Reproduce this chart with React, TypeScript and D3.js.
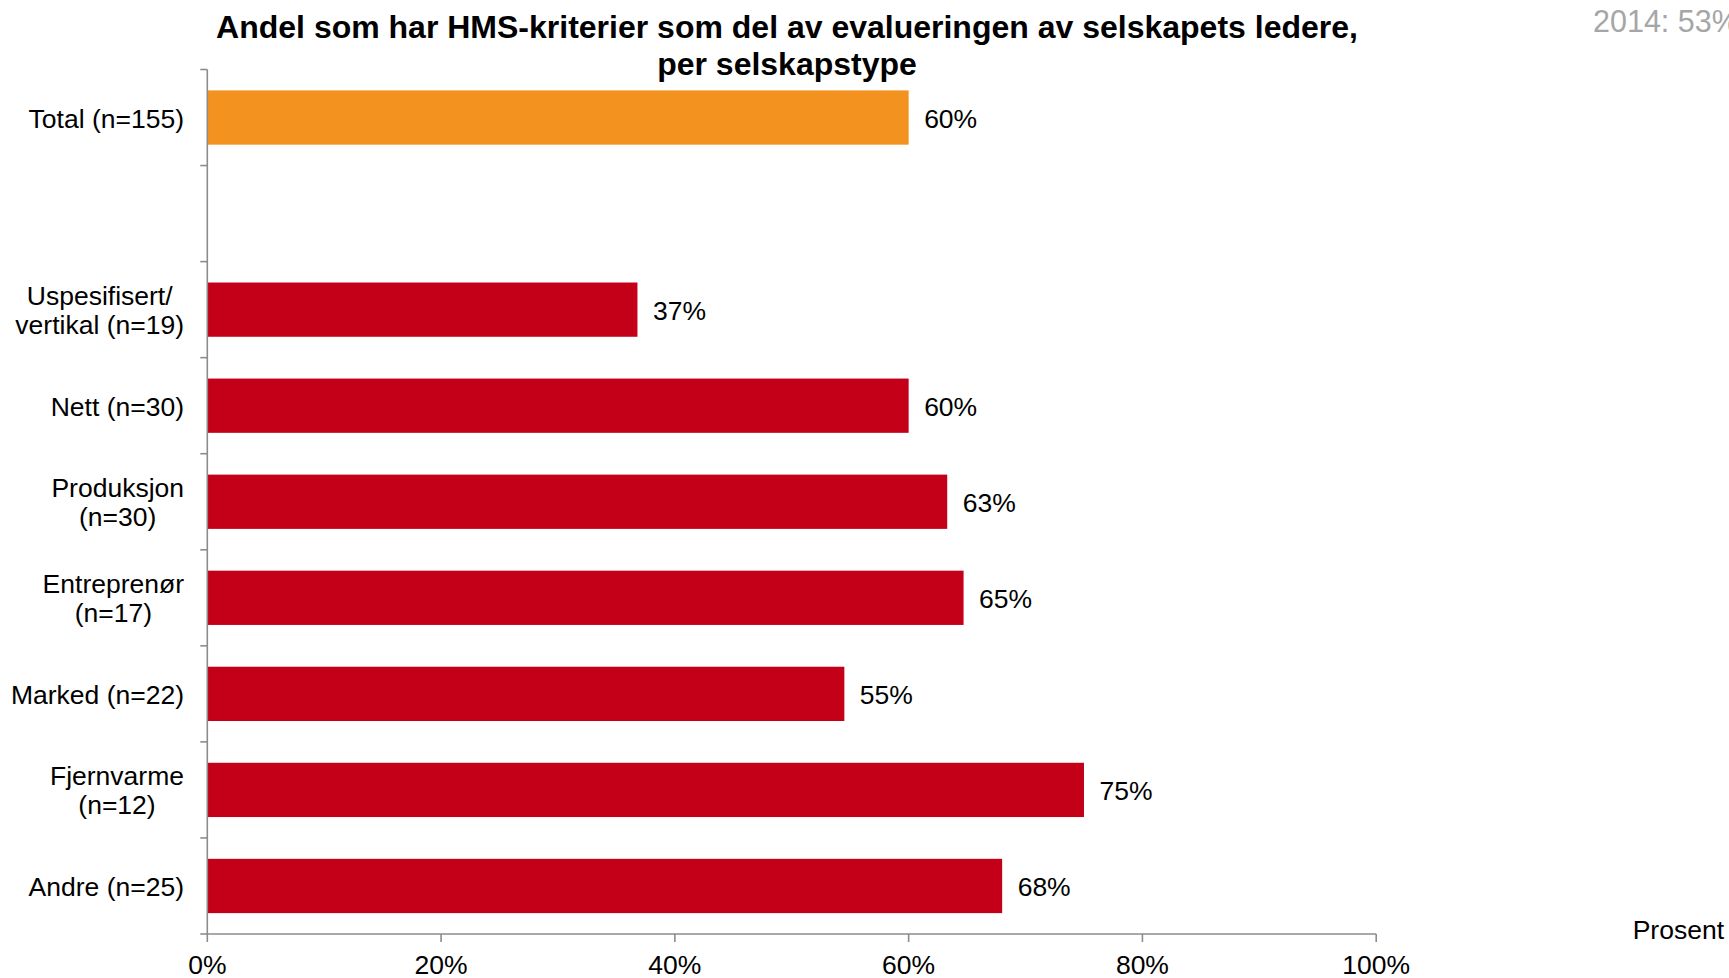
import React, { useEffect, useRef } from "react";
import * as d3 from "d3";

const categoryLines: string[][] = [
  ["Total (n=155)"],
  [],
  ["Uspesifisert/", "vertikal (n=19)"],
  ["Nett (n=30)"],
  ["Produksjon", "(n=30)"],
  ["Entreprenør", "(n=17)"],
  ["Marked (n=22)"],
  ["Fjernvarme", "(n=12)"],
  ["Andre (n=25)"],
];
const categoryKeys = ["total", "gap", "usp", "nett", "prod", "entr", "marked", "fjern", "andre"];
const values: (number | null)[] = [60, null, 36.8, 60, 63.3, 64.7, 54.5, 75, 68];
const barColors = ["#F4921F", "", "#C40019", "#C40019", "#C40019", "#C40019", "#C40019", "#C40019", "#C40019"];
const xTicks = [0, 20, 40, 60, 80, 100];
const titleLines = [
  "Andel som har HMS-kriterier som del av evalueringen av selskapets ledere,",
  "per selskapstype",
];
const noteText = "2014: 53%";
const unitText = "Prosent";

const W = 1729;
const H = 978;
const FONT = "'Liberation Sans', Arial, sans-serif";

export default function App() {
  const ref = useRef<SVGSVGElement | null>(null);

  useEffect(() => {
    const svg = d3.select(ref.current);
    svg.selectAll("*").remove();

    const left = 207.3;
    const right = 1376.2;
    const top = 69.5;
    const bottom = 934;
    const axisColor = "#8c8c8c";
    const fs = 26.5;

    const x = d3.scaleLinear().domain([0, 100]).range([left, right]);
    const y = d3
      .scaleBand<string>()
      .domain(categoryKeys)
      .range([top, bottom])
      .paddingInner(0.435)
      .paddingOuter(0.2175);
    const step = y.step();

    // title
    const title = svg
      .append("text")
      .attr("font-family", FONT)
      .attr("font-size", 32)
      .attr("font-weight", "bold")
      .attr("text-anchor", "middle")
      .attr("fill", "#000");
    titleLines.forEach((t, i) => {
      title
        .append("tspan")
        .attr("x", 787)
        .attr("y", 26.5 + i * 37.5)
        .attr("dominant-baseline", "central")
        .text(t);
    });

    // note
    svg
      .append("text")
      .attr("x", 1593)
      .attr("y", 21)
      .attr("dominant-baseline", "central")
      .attr("font-family", FONT)
      .attr("font-size", 30.5)
      .attr("fill", "#a6a6a6")
      .text(noteText);

    // unit
    svg
      .append("text")
      .attr("x", 1724)
      .attr("y", 930)
      .attr("text-anchor", "end")
      .attr("dominant-baseline", "central")
      .attr("font-family", FONT)
      .attr("font-size", fs)
      .attr("fill", "#000")
      .text(unitText);

    // bars
    categoryKeys.forEach((k, i) => {
      const v = values[i];
      if (v == null) return;
      svg
        .append("rect")
        .attr("x", x(0))
        .attr("y", y(k)!)
        .attr("width", x(v) - x(0))
        .attr("height", y.bandwidth())
        .attr("fill", barColors[i]);
      svg
        .append("text")
        .attr("x", x(v) + 15.5)
        .attr("y", y(k)! + y.bandwidth() / 2 + 1)
        .attr("dominant-baseline", "central")
        .attr("font-family", FONT)
        .attr("font-size", fs)
        .attr("fill", "#000")
        .text(`${Math.round(v)}%`);
    });

    // y axis line and ticks
    svg
      .append("line")
      .attr("x1", left)
      .attr("x2", left)
      .attr("y1", top)
      .attr("y2", bottom)
      .attr("stroke", axisColor)
      .attr("stroke-width", 1.6);
    for (let i = 0; i <= categoryKeys.length; i++) {
      const yy = top + i * step;
      svg
        .append("line")
        .attr("x1", left - 7)
        .attr("x2", left)
        .attr("y1", yy)
        .attr("y2", yy)
        .attr("stroke", axisColor)
        .attr("stroke-width", 1.6);
    }

    // x axis
    svg
      .append("line")
      .attr("x1", left)
      .attr("x2", right)
      .attr("y1", bottom)
      .attr("y2", bottom)
      .attr("stroke", axisColor)
      .attr("stroke-width", 1.6);
    xTicks.forEach((t) => {
      svg
        .append("line")
        .attr("x1", x(t))
        .attr("x2", x(t))
        .attr("y1", bottom)
        .attr("y2", bottom + 8)
        .attr("stroke", axisColor)
        .attr("stroke-width", 1.6);
      svg
        .append("text")
        .attr("x", x(t))
        .attr("y", 965)
        .attr("text-anchor", "middle")
        .attr("dominant-baseline", "central")
        .attr("font-family", FONT)
        .attr("font-size", fs)
        .attr("fill", "#000")
        .text(`${t}%`);
    });

    // category labels (multi-line centered block, right aligned)
    const labelRight = 184;
    const lineGap = 29;
    categoryKeys.forEach((k, i) => {
      const lines = categoryLines[i];
      if (!lines.length) return;
      const cy = y(k)! + y.bandwidth() / 2;
      const g = svg
        .append("text")
        .attr("font-family", FONT)
        .attr("font-size", fs)
        .attr("fill", "#000")
        .attr("text-anchor", "middle");
      const spans = lines.map((l, j) =>
        g
          .append("tspan")
          .attr("y", cy + (j - (lines.length - 1) / 2) * lineGap + 1)
          .attr("dominant-baseline", "central")
          .text(l)
      );
      const widths = spans.map((s) => (s.node() as SVGTSpanElement).getComputedTextLength());
      const maxW = Math.max(...widths);
      spans.forEach((s) => s.attr("x", labelRight - maxW / 2));
    });
  }, []);

  return (
    <svg
      ref={ref}
      width={W}
      height={H}
      style={{ position: "absolute", left: 0, top: 0, background: "#fff" }}
    />
  );
}
